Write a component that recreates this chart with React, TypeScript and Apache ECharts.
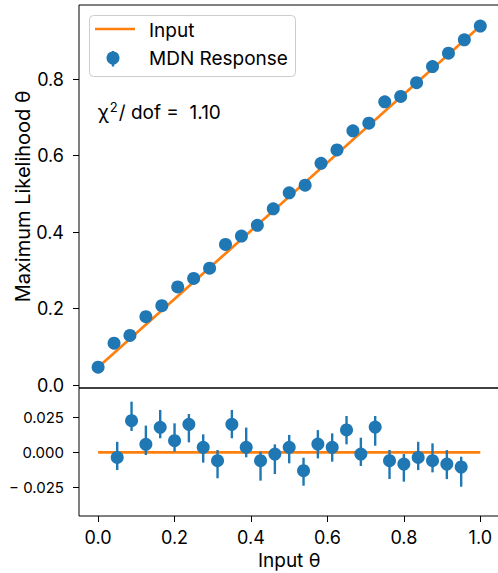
import React, { useEffect, useRef } from "react";
import * as echarts from "echarts";

// ---- data ----
const topX = [0, 0.0417, 0.0833, 0.125, 0.1667, 0.2083, 0.25, 0.2917, 0.3333, 0.375, 0.4167, 0.4583, 0.5, 0.5417, 0.5833, 0.625, 0.6667, 0.7083, 0.75, 0.7917, 0.8333, 0.875, 0.9167, 0.9583, 1.0];
const topY = [0.047, 0.110, 0.130, 0.179, 0.208, 0.257, 0.279, 0.306, 0.368, 0.390, 0.418, 0.461, 0.503, 0.523, 0.580, 0.615, 0.665, 0.685, 0.741, 0.755, 0.791, 0.833, 0.868, 0.903, 0.939];
const inputLineX = [0, 1];
const inputLineY = [0.047, 0.939];

const resX = [0.05, 0.0875, 0.125, 0.1625, 0.2, 0.2375, 0.275, 0.3125, 0.35, 0.3875, 0.425, 0.4625, 0.5, 0.5375, 0.575, 0.6125, 0.65, 0.6875, 0.725, 0.7625, 0.8, 0.8375, 0.875, 0.9125, 0.95];
const resY = [-0.0036, 0.0225, 0.0057, 0.0178, 0.0083, 0.0199, 0.0036, -0.0059, 0.0199, 0.0036, -0.0059, -0.0012, 0.0036, -0.013, 0.0059, 0.0036, 0.0159, -0.0012, 0.018, -0.0059, -0.0083, -0.0036, -0.0059, -0.0083, -0.0104];
const resErrUp = [0.0111, 0.0135, 0.0133, 0.0123, 0.0123, 0.0073, 0.0092, 0.0076, 0.0102, 0.014, 0.0064, 0.0069, 0.0088, 0.0092, 0.0099, 0.0099, 0.0099, 0.0116, 0.0078, 0.0076, 0.0071, 0.0111, 0.0123, 0.0099, 0.0073];
const resErrDown = [0.009, 0.0073, 0.0076, 0.0078, 0.0078, 0.0128, 0.0109, 0.0125, 0.0099, 0.0071, 0.0142, 0.0142, 0.0114, 0.0107, 0.0102, 0.0102, 0.0102, 0.0085, 0.0133, 0.013, 0.0125, 0.009, 0.0083, 0.0107, 0.014];
const zeroLineX = [0, 1];
const zeroLineY = [0, 0];

const topYTicks = [0, 0.2, 0.4, 0.6, 0.8];
const resYTicks = [-0.025, 0, 0.025];
const xTicks = [0, 0.2, 0.4, 0.6, 0.8, 1.0];

const chiText = "1.10";

const BLUE = "#1f77b4";
const ORANGE = "#ff7f0e";
const FONT = "Inter, Liberation Sans, Arial, sans-serif";

export default function App() {
  const ref = useRef<HTMLDivElement>(null);
  useEffect(() => {
    if (!ref.current) return;
    const chart = echarts.init(ref.current, null, { renderer: "svg" });
    const errData = resX.map((x, i) => [x, resY[i] - resErrDown[i], resY[i] + resErrUp[i]]);
    const option: any = {
      animation: false,
      backgroundColor: "#fff",
      textStyle: { fontFamily: FONT },
      grid: [
        { left: 79, top: 5, width: 420.4, height: 383, show: true, borderColor: "#000", borderWidth: 1, outerBoundsMode: "none" },
        { left: 79, top: 388, width: 420.4, height: 128, show: true, borderColor: "#000", borderWidth: 1, outerBoundsMode: "none" },
      ],
      xAxis: [
        {
          gridIndex: 0, type: "value", min: -0.05, max: 1.05, position: "bottom",
          axisLine: { show: false, onZero: false }, axisTick: { show: false }, axisLabel: { show: false }, splitLine: { show: false },
        },
        {
          gridIndex: 1, type: "value", min: -0.05, max: 1.05, position: "bottom",
          axisLine: { show: false, onZero: false },
          splitLine: { show: false },
          axisTick: { show: true, customValues: xTicks, length: 6, lineStyle: { color: "#000", width: 1 } },
          axisLabel: {
            show: true, customValues: xTicks, margin: 12, fontSize: 18, color: "#000", fontFamily: FONT,
            formatter: (v: number) => v.toFixed(1),
          },
          name: "Input θ", nameLocation: "middle", nameGap: 35, nameMoveOverlap: false,
          nameTextStyle: { fontSize: 19, color: "#000", fontFamily: FONT },
        },
      ],
      yAxis: [
        {
          gridIndex: 0, type: "value", min: -0.0073, max: 0.994, position: "left",
          axisLine: { show: false, onZero: false }, splitLine: { show: false },
          axisTick: { show: true, customValues: topYTicks, length: 6, lineStyle: { color: "#000", width: 1 } },
          axisLabel: {
            show: true, customValues: topYTicks, margin: 15, fontSize: 18, color: "#000", fontFamily: FONT,
            formatter: (v: number) => v.toFixed(1),
          },
          name: "Maximum Likelihood θ", nameLocation: "middle", nameGap: 46, nameRotate: 90, nameMoveOverlap: false,
          nameTextStyle: { fontSize: 20, color: "#000", fontFamily: FONT },
        },
        {
          gridIndex: 1, type: "value", min: -0.0452, max: 0.0457, position: "left",
          axisLine: { show: false, onZero: false }, splitLine: { show: false },
          axisTick: { show: true, customValues: resYTicks, length: 6, lineStyle: { color: "#000", width: 1 } },
          axisLabel: {
            show: true, customValues: resYTicks, margin: 15, fontSize: 15, color: "#000", fontFamily: FONT,
            formatter: (v: number) => (v < 0 ? "\u2212 " : "") + Math.abs(v).toFixed(3),
          },
        },
      ],
      series: [
        {
          name: "Input", type: "line", xAxisIndex: 0, yAxisIndex: 0,
          data: inputLineX.map((x, i) => [x, inputLineY[i]]),
          showSymbol: false, symbol: "none", lineStyle: { color: ORANGE, width: 2.7 }, z: 2,
        },
        {
          name: "MDN Response", type: "scatter", xAxisIndex: 0, yAxisIndex: 0,
          data: topX.map((x, i) => [x, topY[i]]),
          symbol: "circle", symbolSize: 13, itemStyle: { color: BLUE, opacity: 1 }, z: 4,
        },
        {
          name: "Input residual", type: "line", xAxisIndex: 1, yAxisIndex: 1,
          data: zeroLineX.map((x, i) => [x, zeroLineY[i]]),
          showSymbol: false, symbol: "none", lineStyle: { color: ORANGE, width: 2.7 }, z: 2,
        },
        {
          name: "MDN error", type: "custom", xAxisIndex: 1, yAxisIndex: 1,
          data: errData, encode: { x: 0, y: [1, 2] }, z: 3,
          renderItem: (params: any, api: any) => {
            const x = api.value(0);
            const p1 = api.coord([x, api.value(1)]);
            const p2 = api.coord([x, api.value(2)]);
            return {
              type: "line",
              shape: { x1: p1[0], y1: p1[1], x2: p2[0], y2: p2[1] },
              style: { stroke: BLUE, lineWidth: 2.4 },
            };
          },
        },
        {
          name: "MDN residual", type: "scatter", xAxisIndex: 1, yAxisIndex: 1,
          data: resX.map((x, i) => [x, resY[i]]),
          symbol: "circle", symbolSize: 13, itemStyle: { color: BLUE, opacity: 1 }, z: 4,
        },
      ],
      graphic: [
        {
          type: "group", z: 100,
          children: [
            { type: "rect", shape: { x: 89.5, y: 15.5, width: 206, height: 61, r: 4 }, style: { fill: "rgba(255,255,255,0.8)", stroke: "#cccccc", lineWidth: 1 } },
            { type: "line", shape: { x1: 95, y1: 29, x2: 135, y2: 29 }, style: { stroke: ORANGE, lineWidth: 2.7 } },
            { type: "line", shape: { x1: 113, y1: 51, x2: 113, y2: 66.5 }, style: { stroke: BLUE, lineWidth: 2.4 } },
            { type: "circle", shape: { cx: 113, cy: 58, r: 6.5 }, style: { fill: BLUE } },
            { type: "text", x: 149, y: 30, style: { text: "Input", fontSize: 19, fontFamily: FONT, fill: "#000", verticalAlign: "middle" } },
            { type: "text", x: 149, y: 58, style: { text: "MDN Response", fontSize: 19, fontFamily: FONT, fill: "#000", verticalAlign: "middle" } },
          ],
        },
        {
          type: "text", x: 98, y: 111, z: 100,
          style: {
            text: "{a|χ}{s|2}{a|/ dof =  " + chiText + "}",
            verticalAlign: "middle",
            fill: "#000",
            rich: {
              a: { fontSize: 19, fontFamily: FONT, fill: "#000", verticalAlign: "bottom", lineHeight: 21 },
              s: { fontSize: 13, fontFamily: FONT, fill: "#000", verticalAlign: "top", lineHeight: 21, padding: [0, 1, 0, 1] },
            },
          },
        },
      ],
    };
    chart.setOption(option);
    return () => chart.dispose();
  }, []);
  return <div ref={ref} style={{ position: "fixed", left: 0, top: 0, width: 498, height: 573 }} />;
}
